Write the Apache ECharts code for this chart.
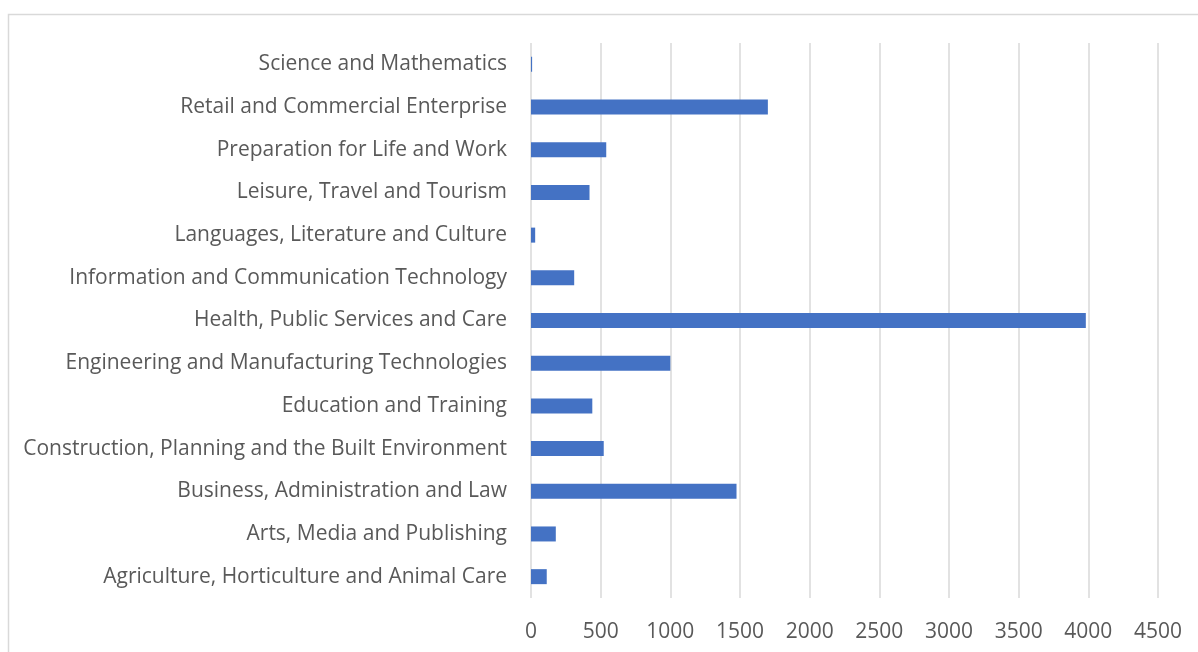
<!DOCTYPE html>
<html>
<head>
<meta charset="utf-8">
<script src="https://cdn.jsdelivr.net/npm/echarts@6/dist/echarts.min.js"></script>
<style>
  html, body { margin: 0; padding: 0; background: #fff; }
  #chart { width: 1198px; height: 652px; }
</style>
</head>
<body>
<div id="chart"></div>
<script>
// Subject areas, listed bottom to top
const subjects = [
  'Agriculture, Horticulture and Animal Care',
  'Arts, Media and Publishing',
  'Business, Administration and Law',
  'Construction, Planning and the Built Environment',
  'Education and Training',
  'Engineering and Manufacturing Technologies',
  'Health, Public Services and Care',
  'Information and Communication Technology',
  'Languages, Literature and Culture',
  'Leisure, Travel and Tourism',
  'Preparation for Life and Work',
  'Retail and Commercial Enterprise',
  'Science and Mathematics'
];

// Count per subject area
const counts = [113, 178, 1475, 522, 440, 1000, 3982, 310, 30, 420, 540, 1700, 8];

const FONT = '"Open Sans", "Liberation Sans", sans-serif';
const TEXT = '#595959';
const GRID = '#d9d9d9';

const chart = echarts.init(document.getElementById('chart'), null, { renderer: 'canvas' });
chart.setOption({
  animation: false,
  backgroundColor: '#ffffff',
  graphic: [{
    type: 'rect',
    shape: { x: 8.5, y: 14.5, width: 1300, height: 800 },
    style: { fill: 'none', stroke: GRID, lineWidth: 1.5 },
    silent: true
  }],
  grid: { left: 531, right: 40, top: 43, bottom: 54, containLabel: false },
  xAxis: {
    type: 'value',
    min: 0,
    max: 4500,
    interval: 500,
    axisLine: { show: false },
    axisTick: { show: false },
    splitLine: { show: true, lineStyle: { color: GRID, width: 1.5 } },
    axisLabel: {
      color: TEXT, fontFamily: FONT, fontSize: 21, margin: 24,
      formatter: v => String(v)
    }
  },
  yAxis: {
    type: 'category',
    data: subjects,
    axisLine: { show: false },
    axisTick: { show: false },
    splitLine: { show: false },
    axisLabel: { color: TEXT, fontFamily: FONT, fontSize: 21, margin: 24, padding: [7, 0, 0, 0] }
  },
  series: [{
    type: 'bar',
    data: counts,
    barWidth: 15,
    itemStyle: { color: '#4472C4' }
  }]
});
</script>
</body>
</html>
